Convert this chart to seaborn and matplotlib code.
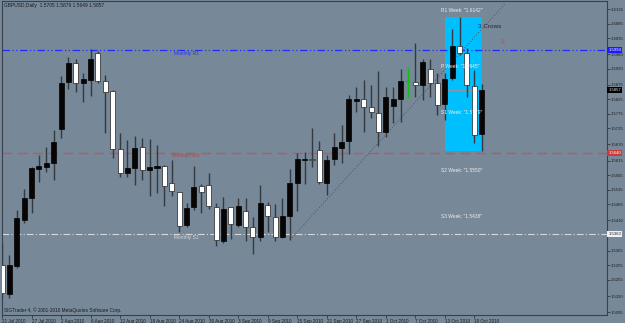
import numpy as np
import pandas as pd
import matplotlib
matplotlib.use("Agg")
import matplotlib.pyplot as plt
import matplotlib.transforms as mtransforms
from matplotlib.patches import Rectangle
import seaborn as sns

# ---------------- data ----------------
opens = [1.5256, 1.5157, 1.5253, 1.5411, 1.5486, 1.5586, 1.5593, 1.5607, 1.5723, 1.5885,
         1.5950, 1.5881, 1.5891, 1.5984, 1.5888, 1.5854, 1.5654, 1.5572, 1.5589, 1.5661,
         1.5582, 1.5589, 1.5596, 1.5538, 1.5507, 1.5394, 1.5456, 1.5528, 1.5531, 1.5456,
         1.5339, 1.5456, 1.5394, 1.5442, 1.5387, 1.5352, 1.5463, 1.5421, 1.5352, 1.5425,
         1.5538, 1.5617, 1.5620, 1.5651, 1.5538, 1.5620, 1.5658, 1.5682, 1.5819, 1.5826,
         1.5799, 1.5778, 1.5713, 1.5802, 1.5826, 1.5888, 1.5885, 1.5874, 1.5929, 1.5881,
         1.5809, 1.5898, 1.6008, 1.5984, 1.5871, 1.5705]
highs = [1.5332, 1.5291, 1.5445, 1.5517, 1.5593, 1.5634, 1.5661, 1.5720, 1.5905, 1.5970,
         1.5963, 1.5915, 1.5998, 1.5991, 1.5908, 1.5857, 1.5709, 1.5686, 1.5699, 1.5692,
         1.5689, 1.5668, 1.5600, 1.5617, 1.5507, 1.5470, 1.5597, 1.5534, 1.5572, 1.5470,
         1.5490, 1.5456, 1.5486, 1.5486, 1.5421, 1.5531, 1.5473, 1.5466, 1.5486, 1.5586,
         1.5641, 1.5644, 1.5727, 1.5682, 1.5634, 1.5709, 1.5737, 1.5840, 1.5867, 1.5891,
         1.5874, 1.5922, 1.5867, 1.5867, 1.5929, 1.5936, 1.6018, 1.5963, 1.5963, 1.5915,
         1.5915, 1.6066, 1.6108, 1.6001, 1.5926, 1.5879]
lows = [1.5143, 1.5143, 1.5246, 1.5400, 1.5435, 1.5541, 1.5576, 1.5548, 1.5692, 1.5861,
        1.5850, 1.5816, 1.5836, 1.5881, 1.5709, 1.5624, 1.5559, 1.5559, 1.5531, 1.5548,
        1.5493, 1.5503, 1.5459, 1.5493, 1.5370, 1.5387, 1.5445, 1.5435, 1.5449, 1.5322,
        1.5332, 1.5346, 1.5387, 1.5339, 1.5294, 1.5339, 1.5370, 1.5339, 1.5349, 1.5342,
        1.5442, 1.5534, 1.5593, 1.5534, 1.5497, 1.5600, 1.5607, 1.5637, 1.5782, 1.5713,
        1.5761, 1.5665, 1.5696, 1.5744, 1.5747, 1.5829, 1.5833, 1.5823, 1.5833, 1.5771,
        1.5754, 1.5891, 1.5977, 1.5833, 1.5675, 1.5649]
closes = [1.5160, 1.5256, 1.5418, 1.5486, 1.5589, 1.5597, 1.5607, 1.5679, 1.5881, 1.5950,
          1.5881, 1.5895, 1.5963, 1.5888, 1.5850, 1.5654, 1.5572, 1.5589, 1.5658, 1.5582,
          1.5593, 1.5596, 1.5528, 1.5511, 1.5390, 1.5453, 1.5525, 1.5507, 1.5459, 1.5342,
          1.5449, 1.5397, 1.5459, 1.5387, 1.5352, 1.5470, 1.5425, 1.5352, 1.5425, 1.5538,
          1.5620, 1.5620, 1.5618, 1.5541, 1.5617, 1.5661, 1.5679, 1.5826, 1.5826, 1.5799,
          1.5782, 1.5713, 1.5833, 1.5826, 1.5888, 1.5888, 1.5874, 1.5953, 1.5881, 1.5806,
          1.5895, 1.6008, 1.5984, 1.5874, 1.5702, 1.5857]

date_tick_idx = [0, 4, 8, 12, 16, 20, 24, 28, 32, 36, 40, 44, 48, 52, 56, 60, 64]
date_labels = ["21 Jul 2010", "27 Jul 2010", "2 Aug 2010", "6 Aug 2010", "12 Aug 2010",
               "18 Aug 2010", "24 Aug 2010", "30 Aug 2010", "3 Sep 2010", "9 Sep 2010",
               "15 Sep 2010", "21 Sep 2010", "27 Sep 2010", "1 Oct 2010", "7 Oct 2010",
               "13 Oct 2010", "19 Oct 2010"]
price_ticks = [1.6135, 1.6085, 1.6035, 1.5980, 1.5930, 1.5875, 1.5825, 1.5775, 1.5725,
               1.5670, 1.5615, 1.5565, 1.5515, 1.5465, 1.5410, 1.5355, 1.5305, 1.5255,
               1.5205, 1.5150, 1.5095]
# 1.5355 is hidden under the Monthly S1 price box in the reference
price_tick_labels = ["1.6135", "1.6085", "1.6035", "1.5980", "1.5930", "1.5875", "1.5825",
                     "1.5775", "1.5725", "1.5670", "1.5615", "1.5565", "1.5515", "1.5465",
                     "1.5410", "", "1.5305", "1.5255", "1.5205", "1.5150", "1.5095"]

monthly_r1 = 1.5994
monthly_pivot = 1.5640
monthly_s1 = 1.5363
last_price = 1.5857

weekly_labels = ['R1 Week: "1.6142"', 'P Week: "1.5945"', 'S1 Week: "1.5779"',
                 'S2 Week: "1.5550"', 'S3 Week: "1.5438"']

pattern_start, pattern_end = 60, 65
trend_x = [39.0, 68.1]
trend_y = [1.5342, 1.6152]

# ---------------- styling ----------------
sns.set_style("ticks")
plt.rcParams["font.family"] = ["Liberation Sans", "DejaVu Sans"]

BG = "#778899"
TXT = "#1c1c1c"
W, H = 625, 323

fig = plt.figure(figsize=(W / 100, H / 100), dpi=100, facecolor=BG)
ax = fig.add_axes([2 / W, 8 / H, 605 / W, 314 / H])
ax.set_facecolor(BG)

df = pd.DataFrame({"open": opens, "high": highs, "low": lows, "close": closes})
df["idx"] = np.arange(len(df))

# cyan pattern box (behind candles)
sub = df.iloc[pattern_start:pattern_end + 1]
ax.add_patch(Rectangle((pattern_start, sub["low"].min()), pattern_end - pattern_start,
                       sub["high"].max() - sub["low"].min(),
                       facecolor="#00BFFF", edgecolor="none", zorder=1))

# monthly level lines
ax.axhline(monthly_r1, color="#1f2bff", lw=0.9, ls=(0, (6, 2, 1, 2, 1, 2)), zorder=2)
ax.axhline(monthly_pivot, color="#b85a5a", lw=1.0, ls=(0, (7, 4)), zorder=2)
ax.axhline(monthly_s1, color="#d8d8d8", lw=0.8, ls=(0, (6, 2, 1, 2)), zorder=2)

# trendline
sns.lineplot(x=trend_x, y=trend_y, ax=ax, color="#4a5460", lw=0.7,
             linestyle=(0, (1, 2)), zorder=2)

# short grey line inside the box
ax.plot([59.8, 64.6], [last_price, last_price], color="#8a98a8", lw=0.8, zorder=2)

# candles
bw = 0.68
up = df["close"] > df["open"]
doji = df["close"] == df["open"]
wick_colors = np.where(doji, "#10c010", "#343a40")
ax.vlines(df["idx"], df["low"], df["high"], colors=wick_colors, lw=1.0, zorder=3)
body_bottom = np.minimum(df["open"], df["close"])
body_h = np.maximum(np.abs(df["close"] - df["open"]), 0.00025)
up_mask = up & ~doji
dn_mask = ~up & ~doji
ax.bar(df["idx"][up_mask], body_h[up_mask], bottom=body_bottom[up_mask], width=bw,
       color="#0a0505", edgecolor="#000000", lw=0.5, zorder=4)
ax.bar(df["idx"][dn_mask], body_h[dn_mask], bottom=body_bottom[dn_mask], width=bw,
       color="#ffffff", edgecolor="#202020", lw=0.5, zorder=4)
ax.hlines(df["close"][doji], df["idx"][doji] - bw / 2, df["idx"][doji] + bw / 2,
          colors="#10c010", lw=1.0, zorder=4)

# axes limits
ax.set_xlim(0.054, 81.97)
ax.set_ylim(1.50848, 1.61625)

# ticks
ax.yaxis.tick_right()
ax.set_yticks(price_ticks)
ax.set_yticklabels(price_tick_labels)
ax.set_xticks(date_tick_idx)
ax.set_xticklabels(date_labels, ha="left")
ax.tick_params(axis="y", direction="out", length=2, width=0.6, colors="#303840",
               labelcolor=TXT, labelsize=3.1, pad=0.8)
ax.tick_params(axis="x", direction="out", length=2, width=0.6, colors="#303840",
               labelcolor=TXT, labelsize=3.3, pad=1.2)
for lab in ax.get_xticklabels():
    lab.set_horizontalalignment("left")

for s in ax.spines.values():
    s.set_color("#39424c")
    s.set_linewidth(0.8)
    s.set_visible(True)

# price boxes on the right axis
trans = mtransforms.blended_transform_factory(ax.transAxes, ax.transData)
for val, fc, tc in [(monthly_r1, "#1a1aff", "white"), (last_price, "#000000", "#e0e0e0"),
                    (monthly_pivot, "#c83c3c", "white"), (monthly_s1, "#f0f0f0", "#202020")]:
    ax.text(1.002, val, f"{val:.4f}", transform=trans, ha="left", va="center",
            fontsize=3.1, color=tc, zorder=10, clip_on=False,
            bbox=dict(boxstyle="square,pad=0.25", fc=fc, ec="none"))


def ftext(px, py, s, **kw):
    fig.text(px / W, 1 - py / H, s, **kw)


ftext(4, 6, "GBPUSD,Daily  1.5705 1.5879 1.5649 1.5857", fontsize=3.5, color=TXT,
      va="center", ha="left")
ftext(4, 310, "SIGTrader 4, \u00a9 2001-2010 MetaQuotes Software Corp.", fontsize=3.4,
      color=TXT, va="center", ha="left")

ftext(186, 53, "Monthly R1", fontsize=3.5, color="#2030ff", ha="center", va="center")
ftext(186, 156, "MonthlyPivot", fontsize=3.5, color="#b04848", ha="center", va="center")
ftext(186, 237, "Monthly S1", fontsize=3.5, color="#d8d8d8", ha="center", va="center")

for py, s in zip([10, 67, 113, 170, 217], weekly_labels):
    ftext(441, py, s, fontsize=3.5, color="#eeeeee", ha="left", va="center")

ftext(478, 26, "3 Crows", fontsize=4.6, color="#202838", ha="left", va="center")
ftext(503, 42, "8", fontsize=5, color="#e04848", ha="center", va="center")

fig.savefig("out.png", dpi=100, facecolor=BG)
